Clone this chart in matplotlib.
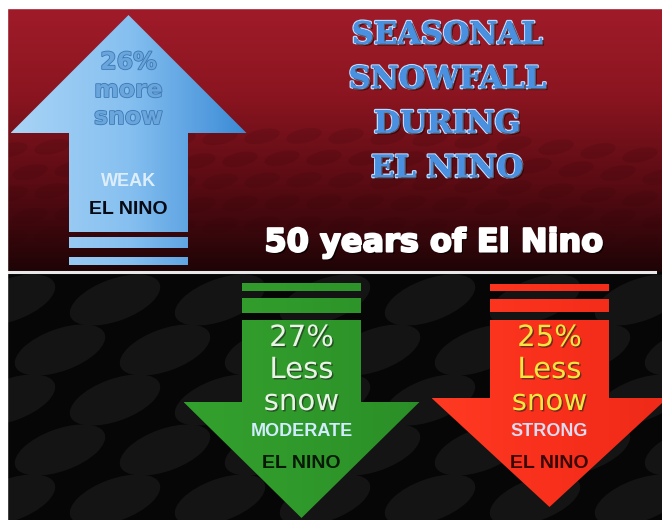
import numpy as np
import matplotlib
matplotlib.use("Agg")
from matplotlib import pyplot as plt
from matplotlib.patches import Polygon, Rectangle, Ellipse
from matplotlib.colors import LinearSegmentedColormap
import matplotlib.patheffects as pe

# data: el nino strength vs seasonal snowfall change
kategori = ["WEAK", "MODERATE", "STRONG"]
persen = [26, -27, -25]
kata_arah = ["more", "Less", "Less"]

judul = ["SEASONAL", "SNOWFALL", "DURING", "EL NINO"]
subjudul = "50 years of El Nino"

fig = plt.figure(figsize=(6.62, 5.2), dpi=100)
ax = fig.add_axes([0, 0, 1, 1])
ax.set_xlim(0, 662)
ax.set_ylim(520, 0)
ax.axis("off")

# background atas (merah gelap) dan bawah (hitam)
grad_atas = np.linspace(0, 1, 200).reshape(-1, 1)
cmap_atas = LinearSegmentedColormap.from_list("atas", ["#a01b2a", "#8a1520", "#5a0b13", "#1e0406"])
ax.imshow(grad_atas, extent=(7, 662, 272, 8), cmap=cmap_atas, aspect="auto", origin="upper", zorder=0)
ax.add_patch(Rectangle((7, 272), 655, 248, color="#060606", zorder=0))

# tekstur elips di bawah
for baris in range(5):
    for kolom in range(7):
        ex = 10 + kolom * 105 + (baris % 2) * 50
        ey = 300 + baris * 50
        ax.add_patch(Ellipse((ex, ey), 95, 42, angle=-20, color="#141414", zorder=0.5, lw=0))

# tekstur elips di atas (gelombang)
for baris in range(5):
    for kolom in range(16):
        ex = 10 + kolom * 42 + (baris % 2) * 20
        ey = 150 + baris * 22 + kolom * 0.5 - 18 * np.sin(kolom / 5.0)
        ax.add_patch(Ellipse((ex, ey), 36, 14, angle=-12, color="#300508", alpha=0.15, zorder=0.5, lw=0))

ax.add_patch(Rectangle((0, 0), 7, 520, color="white", zorder=5))
ax.add_patch(Rectangle((0, 0), 662, 8, color="white", zorder=5))

# garis putih pemisah
ax.plot([7, 655], [272, 272], color="#e8e8e8", lw=2.2, zorder=2)

# bentuk panah
panah = [
    dict(cx=128.5, ujung=15, kepala=133, badan=232, garis=[(237, 248), (257, 265)],
         warna=["#a9d4f6", "#86c0f0", "#3a8ad6"]),
    dict(cx=301.5, ujung=518, kepala=402, badan=320, garis=[(283, 291), (298, 313)],
         warna=["#33a12d", "#30992b", "#2a8f27"]),
    dict(cx=549.5, ujung=507, kepala=398, badan=320, garis=[(284, 291), (299, 312)],
         warna=["#ff3a22", "#f8301c", "#ee2a18"]),
]
lebar_badan = 59.5
lebar_kepala = 118

for p in panah:
    cx = p["cx"]
    pts = [(cx, p["ujung"]), (cx + lebar_kepala, p["kepala"]), (cx + lebar_badan, p["kepala"]),
           (cx + lebar_badan, p["badan"]), (cx - lebar_badan, p["badan"]), (cx - lebar_badan, p["kepala"]),
           (cx - lebar_kepala, p["kepala"])]
    cm = LinearSegmentedColormap.from_list("p", p["warna"])
    poly = Polygon(pts, closed=True, facecolor="none", edgecolor="none", zorder=3)
    ax.add_patch(poly)
    grad = np.linspace(0, 1, 256).reshape(1, -1)
    y0 = min(p["ujung"], p["badan"])
    y1 = max(p["ujung"], p["badan"])
    im = ax.imshow(grad, extent=(cx - lebar_kepala, cx + lebar_kepala, y1, y0), cmap=cm,
                   aspect="auto", origin="upper", zorder=3)
    im.set_clip_path(poly)
    for (ga, gb) in p["garis"]:
        r = Rectangle((cx - lebar_badan, ga), 2 * lebar_badan, gb - ga, facecolor="none", edgecolor="none", zorder=3)
        ax.add_patch(r)
        im2 = ax.imshow(grad, extent=(cx - lebar_kepala, cx + lebar_kepala, gb, ga), cmap=cm,
                        aspect="auto", origin="upper", zorder=3)
        im2.set_clip_path(r)

# teks pada panah biru (weak)
biru_teks = dict(color="#6aa5dc", fontsize=17, fontweight="bold", ha="center", va="center", zorder=4,
                 path_effects=[pe.withStroke(linewidth=1.2, foreground="#3d78b4")])
ax.text(128.5, 62, f"{persen[0]}%", **biru_teks)
ax.text(128.5, 90, kata_arah[0], **biru_teks)
ax.text(128.5, 117, "snow", **biru_teks)

arial = ["Liberation Sans", "DejaVu Sans"]
ax.text(128.5, 182, kategori[0], color="#dcedfc", fontsize=13, fontweight="bold", family=arial,
        ha="center", va="center", zorder=4)
ax.text(128.5, 209, "EL NINO", color="#050a14", fontsize=14, fontweight="bold", family=arial,
        ha="center", va="center", zorder=4)

# teks pada panah hijau dan merah
warna_persen = ["#e8f5e4", "#f7e640"]
warna_kategori = ["#d2ecff", "#dcdcf2"]
warna_elnino = ["#081a06", "#3a0606"]
for i, p in enumerate(panah[1:]):
    cx = p["cx"]
    teks = dict(color=warna_persen[i], fontsize=21, ha="center", va="center", zorder=4,
                path_effects=[pe.withSimplePatchShadow(offset=(1, -1), shadow_rgbFace="#222222", alpha=0.6)])
    ax.text(cx, 338, f"{abs(persen[i + 1])}%", **teks)
    ax.text(cx, 370, kata_arah[i + 1], **teks)
    ax.text(cx, 402, "snow", **teks)
    ax.text(cx, 431, kategori[i + 1], color=warna_kategori[i], fontsize=13, fontweight="bold", family=arial,
            ha="center", va="center", zorder=4)
    ax.text(cx, 463, "EL NINO", color=warna_elnino[i], fontsize=14, fontweight="bold", family=arial,
            ha="center", va="center", zorder=4)

# judul
for j, baris in enumerate(judul):
    ax.text(447, 35 + j * 44.5, baris, color="#4a90e0", fontsize=22, fontweight="bold", family="DejaVu Serif",
            ha="center", va="center", zorder=4,
            path_effects=[pe.withStroke(linewidth=2.0, foreground="#bcdcff"),
                          pe.withSimplePatchShadow(offset=(1.5, -1.5), shadow_rgbFace="#200000", alpha=0.6),
                          pe.Normal()])

ax.text(434, 243, subjudul, color="white", fontsize=23, fontweight="bold", family="DejaVu Sans",
        ha="center", va="center", zorder=4,
        path_effects=[pe.withSimplePatchShadow(offset=(1.5, -1.5), shadow_rgbFace="black", alpha=0.7),
                      pe.withStroke(linewidth=1.5, foreground="white")])

fig.savefig("out.png", dpi=100)
